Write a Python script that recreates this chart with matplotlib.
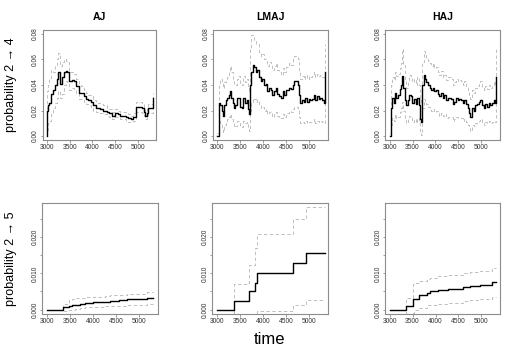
import matplotlib
matplotlib.use("Agg")
import matplotlib.pyplot as plt
from matplotlib.ticker import FixedLocator, FixedFormatter

plt.rcParams['font.family'] = ['Liberation Sans', 'DejaVu Sans']

# ---------------- data: transition 2 -> 4 ----------------
aj_t = [2995, 3003, 3023, 3053, 3094, 3135, 3176, 3216, 3247, 3288,
        3328, 3369, 3410, 3450, 3491, 3542, 3593, 3644, 3695, 3746,
        3807, 3858, 3909, 3960, 4020, 4092, 4163, 4244, 4316, 4377,
        4427, 4499, 4570, 4621, 4682, 4743, 4794, 4845, 4906, 4967,
        5028, 5089, 5140, 5170, 5211, 5231, 5282, 5323, 5338]
aj_est = [0.000, 0.020, 0.024, 0.026, 0.033, 0.036, 0.040, 0.045, 0.050, 0.041,
          0.046, 0.050, 0.051, 0.050, 0.043, 0.044, 0.043, 0.039, 0.034, 0.034,
          0.031, 0.029, 0.028, 0.027, 0.024, 0.022, 0.021, 0.020, 0.019, 0.018,
          0.016, 0.018, 0.017, 0.016, 0.016, 0.015, 0.014, 0.013, 0.015, 0.023,
          0.023, 0.022, 0.019, 0.016, 0.018, 0.022, 0.022, 0.022, 0.030]
aj_hi = [0.002, 0.035, 0.040, 0.045, 0.052, 0.050, 0.056, 0.060, 0.065, 0.055,
         0.058, 0.060, 0.059, 0.058, 0.050, 0.050, 0.049, 0.045, 0.040, 0.039,
         0.036, 0.034, 0.032, 0.031, 0.028, 0.026, 0.025, 0.024, 0.022, 0.021,
         0.019, 0.021, 0.020, 0.019, 0.019, 0.018, 0.017, 0.016, 0.018, 0.027,
         0.027, 0.026, 0.022, 0.019, 0.021, 0.025, 0.025, 0.025, 0.034]
aj_lo = [0.000, 0.005, 0.010, 0.012, 0.018, 0.022, 0.026, 0.030, 0.035, 0.030,
         0.033, 0.040, 0.043, 0.042, 0.036, 0.038, 0.037, 0.034, 0.029, 0.029,
         0.027, 0.025, 0.024, 0.023, 0.020, 0.019, 0.018, 0.017, 0.016, 0.015,
         0.013, 0.015, 0.014, 0.013, 0.013, 0.012, 0.011, 0.011, 0.012, 0.019,
         0.019, 0.018, 0.016, 0.013, 0.015, 0.018, 0.018, 0.018, 0.026]

mj_t = [3000, 3036, 3058, 3094, 3116, 3145, 3189, 3218, 3247, 3276,
        3298, 3334, 3363, 3392, 3421, 3458, 3494, 3530, 3566, 3603,
        3639, 3668, 3690, 3712, 3741, 3770, 3799, 3835, 3871, 3908,
        3944, 3980, 4017, 4053, 4089, 4126, 4162, 4198, 4235, 4271,
        4307, 4343, 4380, 4416, 4452, 4489, 4525, 4561, 4598, 4634,
        4670, 4707, 4743, 4765, 4801, 4837, 4874, 4910, 4946, 4983,
        5019, 5055, 5092, 5128, 5164, 5200, 5237, 5273, 5309, 5331]

lmaj_est = [0.000, 0.026, 0.024, 0.020, 0.016, 0.024, 0.028, 0.030, 0.032, 0.035,
            0.030, 0.026, 0.022, 0.024, 0.030, 0.030, 0.023, 0.022, 0.030, 0.026,
            0.028, 0.021, 0.017, 0.040, 0.050, 0.056, 0.054, 0.050, 0.052, 0.046,
            0.043, 0.045, 0.040, 0.041, 0.035, 0.038, 0.036, 0.032, 0.035, 0.038,
            0.033, 0.031, 0.030, 0.035, 0.032, 0.036, 0.036, 0.038, 0.037, 0.040,
            0.043, 0.043, 0.040, 0.032, 0.026, 0.028, 0.027, 0.030, 0.027, 0.029,
            0.028, 0.029, 0.032, 0.028, 0.031, 0.029, 0.030, 0.028, 0.026, 0.050]
lmaj_hi = [0.002, 0.040, 0.045, 0.042, 0.038, 0.042, 0.044, 0.046, 0.050, 0.055,
           0.050, 0.044, 0.040, 0.040, 0.045, 0.047, 0.041, 0.040, 0.047, 0.042,
           0.045, 0.038, 0.034, 0.068, 0.079, 0.078, 0.075, 0.072, 0.072, 0.066,
           0.063, 0.064, 0.060, 0.060, 0.055, 0.058, 0.057, 0.052, 0.055, 0.057,
           0.052, 0.050, 0.048, 0.053, 0.050, 0.054, 0.055, 0.057, 0.056, 0.060,
           0.063, 0.063, 0.060, 0.050, 0.045, 0.047, 0.045, 0.048, 0.045, 0.047,
           0.046, 0.047, 0.050, 0.046, 0.049, 0.047, 0.048, 0.046, 0.044, 0.072]
lmaj_lo = [0.000, 0.012, 0.010, 0.006, 0.003, 0.009, 0.011, 0.013, 0.015, 0.017,
           0.013, 0.010, 0.007, 0.008, 0.012, 0.012, 0.008, 0.007, 0.012, 0.010,
           0.011, 0.006, 0.004, 0.020, 0.027, 0.030, 0.029, 0.027, 0.028, 0.024,
           0.022, 0.023, 0.020, 0.021, 0.017, 0.019, 0.018, 0.015, 0.017, 0.019,
           0.016, 0.015, 0.014, 0.017, 0.015, 0.018, 0.018, 0.020, 0.019, 0.021,
           0.023, 0.023, 0.021, 0.015, 0.010, 0.011, 0.010, 0.012, 0.010, 0.011,
           0.011, 0.011, 0.013, 0.010, 0.012, 0.011, 0.012, 0.011, 0.010, 0.026]

haj_est = [0.000, 0.022, 0.030, 0.026, 0.034, 0.030, 0.032, 0.037, 0.040, 0.047,
           0.038, 0.028, 0.024, 0.028, 0.032, 0.031, 0.026, 0.029, 0.025, 0.030,
           0.024, 0.013, 0.011, 0.040, 0.048, 0.045, 0.042, 0.040, 0.038, 0.036,
           0.038, 0.035, 0.036, 0.033, 0.031, 0.034, 0.030, 0.032, 0.028, 0.030,
           0.030, 0.029, 0.025, 0.027, 0.030, 0.028, 0.029, 0.028, 0.026, 0.028,
           0.025, 0.022, 0.018, 0.015, 0.022, 0.020, 0.024, 0.025, 0.027, 0.028,
           0.024, 0.022, 0.025, 0.023, 0.026, 0.024, 0.026, 0.028, 0.026, 0.046]
haj_hi = [0.002, 0.040, 0.046, 0.044, 0.050, 0.047, 0.049, 0.053, 0.057, 0.068,
          0.056, 0.044, 0.038, 0.043, 0.048, 0.047, 0.042, 0.045, 0.040, 0.046,
          0.040, 0.028, 0.026, 0.058, 0.067, 0.064, 0.061, 0.059, 0.057, 0.055,
          0.057, 0.053, 0.054, 0.050, 0.048, 0.051, 0.046, 0.048, 0.044, 0.046,
          0.046, 0.045, 0.040, 0.042, 0.045, 0.043, 0.044, 0.043, 0.040, 0.043,
          0.039, 0.036, 0.032, 0.029, 0.036, 0.034, 0.038, 0.039, 0.042, 0.043,
          0.038, 0.036, 0.039, 0.037, 0.040, 0.038, 0.040, 0.043, 0.041, 0.070]
haj_lo = [0.000, 0.009, 0.014, 0.012, 0.017, 0.014, 0.015, 0.019, 0.022, 0.027,
          0.020, 0.013, 0.010, 0.013, 0.016, 0.015, 0.011, 0.013, 0.010, 0.014,
          0.010, 0.002, 0.001, 0.022, 0.029, 0.027, 0.025, 0.023, 0.022, 0.020,
          0.021, 0.019, 0.020, 0.018, 0.016, 0.018, 0.016, 0.017, 0.014, 0.015,
          0.015, 0.015, 0.012, 0.013, 0.015, 0.014, 0.014, 0.014, 0.012, 0.013,
          0.011, 0.009, 0.006, 0.004, 0.009, 0.008, 0.010, 0.011, 0.012, 0.013,
          0.010, 0.009, 0.011, 0.010, 0.012, 0.010, 0.011, 0.012, 0.011, 0.030]

# ---------------- data: transition 2 -> 5 ----------------
aj5_t = [3000, 3361, 3491, 3541, 3613, 3722, 3830, 3903, 4010, 4263,
         4371, 4574, 4733, 5130, 5180, 5274, 5303]
aj5_est = [0.0, 0.0006, 0.0010, 0.0012, 0.0014, 0.0015, 0.0017, 0.0018, 0.0020, 0.0022,
           0.0024, 0.0027, 0.0029, 0.0030, 0.0031, 0.0033, 0.0033]
aj5_hi = [0.0, 0.0015, 0.0027, 0.0029, 0.0031, 0.0032, 0.0034, 0.0035, 0.0036, 0.0038,
          0.0039, 0.0041, 0.0043, 0.0047, 0.0048, 0.0049, 0.0049]
aj5_lo = [0.0, -0.0004, -0.0002, 0.0000, 0.0002, 0.0004, 0.0006, 0.0006, 0.0008, 0.0009,
          0.0010, 0.0011, 0.0012, 0.0014, 0.0015, 0.0016, 0.0016]

lmaj5_t = [3000, 3385, 3697, 3821, 3872, 4649, 4932, 5339]
lmaj5_est = [0.0, 0.0025, 0.0050, 0.0074, 0.0102, 0.0129, 0.0155, 0.0155]
lmaj5_hi = [0.0, 0.0072, 0.0122, 0.0170, 0.0209, 0.0250, 0.0282, 0.0282]
lmaj5_lo = [0.0, -0.0030, -0.0025, -0.0020, -0.0003, 0.0013, 0.0027, 0.0027]

haj5_t = [3000, 3356, 3502, 3532, 3647, 3821, 3880, 4061, 4279, 4592,
          4752, 4970, 5224, 5311]
haj5_est = [0.0, 0.0010, 0.0030, 0.0030, 0.0040, 0.0045, 0.0050, 0.0053, 0.0056, 0.0063,
            0.0066, 0.0068, 0.0075, 0.0075]
haj5_hi = [0.0, 0.0033, 0.0070, 0.0073, 0.0078, 0.0085, 0.0088, 0.0092, 0.0095, 0.0102,
           0.0104, 0.0106, 0.0115, 0.0115]
haj5_lo = [0.0, -0.0015, -0.0008, 0.0000, 0.0005, 0.0012, 0.0013, 0.0016, 0.0018, 0.0024,
           0.0026, 0.0028, 0.0035, 0.0035]

titles = ["AJ", "LMAJ", "HAJ"]
x_ticks = [3000, 3500, 4000, 4500, 5000]
top_yticks = [0.00, 0.02, 0.04, 0.06, 0.08]
top_ylabels = ["0.00", "0.02", "0.04", "0.06", "0.08"]
bot_yticks = [0.000, 0.005, 0.010, 0.015, 0.020, 0.025]
bot_ylabels = ["0.000", "", "0.010", "", "0.020", ""]

# ---------------- figure ----------------
W, H = 515, 347
fig = plt.figure(figsize=(W / 100, H / 100), dpi=100)

def box(l, r, t, b):
    return [l / W, 1 - b / H, (r - l) / W, (b - t) / H]

top_boxes = [box(42.7, 156.0, 30, 140), box(213.0, 328.0, 30, 140), box(385.3, 499.7, 30, 140)]
bot_boxes = [box(42.3, 157.7, 203.3, 314), box(212.3, 327.7, 203.3, 314), box(385.3, 500.0, 203.3, 314)]

frame_col = "#8c8c8c"
ci_col = "#b4b4b4"

def style(ax, yt, yl, ylim):
    ax.set_xlim(2905, 5405)
    ax.set_ylim(*ylim)
    for s in ax.spines.values():
        s.set_color(frame_col)
        s.set_linewidth(0.8)
    ax.xaxis.set_major_locator(FixedLocator(x_ticks))
    ax.yaxis.set_major_locator(FixedLocator(yt))
    ax.yaxis.set_major_formatter(FixedFormatter(yl))
    ax.tick_params(direction="out", length=1.8, width=0.6, color=frame_col,
                   labelsize=4.8, labelcolor="#333333", pad=0.8)
    for lab in ax.get_yticklabels():
        lab.set_rotation(90)
        lab.set_va("center")

def draw(ax, t, est, lo, hi):
    ax.plot(t, hi, drawstyle="steps-post", color=ci_col, lw=0.6, dashes=(4, 3))
    ax.plot(t, lo, drawstyle="steps-post", color=ci_col, lw=0.6, dashes=(4, 3))
    ax.plot(t, est, drawstyle="steps-post", color="black", lw=1.0)

top_data = [(aj_t, aj_est, aj_lo, aj_hi),
            (mj_t, lmaj_est, lmaj_lo, lmaj_hi),
            (mj_t, haj_est, haj_lo, haj_hi)]
bot_data = [(aj5_t, aj5_est, aj5_lo, aj5_hi),
            (lmaj5_t, lmaj5_est, lmaj5_lo, lmaj5_hi),
            (haj5_t, haj5_est, haj5_lo, haj5_hi)]

for i in range(3):
    ax = fig.add_axes(top_boxes[i])
    draw(ax, *top_data[i])
    style(ax, top_yticks, top_ylabels, (-0.0031, 0.0831))
    ax.set_title(titles[i], fontsize=7.5, fontweight="bold", pad=7.2)

    ax2 = fig.add_axes(bot_boxes[i])
    draw(ax2, *bot_data[i])
    style(ax2, bot_yticks, bot_ylabels, (-0.0012, 0.0293))

fig.text(11 / W, 1 - 85 / H, "probability 2 \u2192 4", rotation=90, fontsize=9,
         ha="center", va="center")
fig.text(11 / W, 1 - 258.5 / H, "probability 2 \u2192 5", rotation=90, fontsize=9,
         ha="center", va="center")
fig.text(270 / W, 1 - 339 / H, "time", fontsize=12, ha="center", va="center")

fig.savefig("out.png", dpi=100)
